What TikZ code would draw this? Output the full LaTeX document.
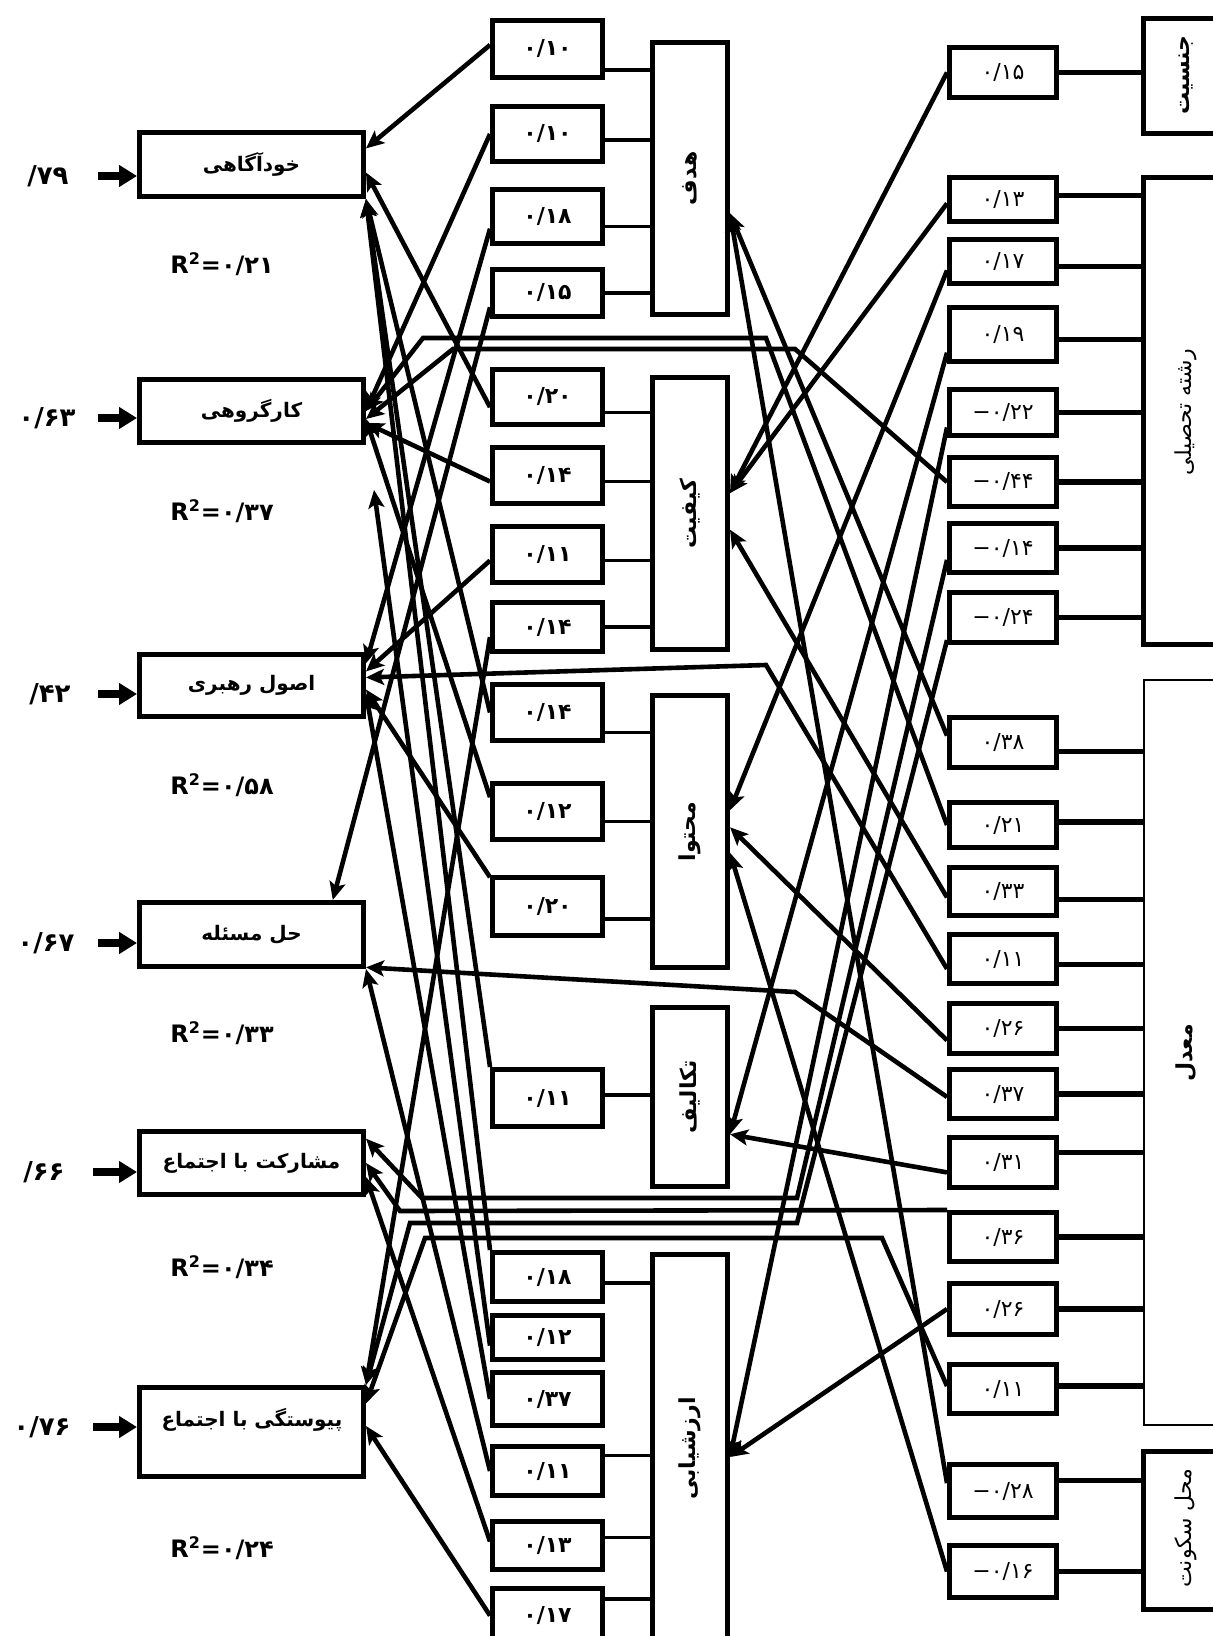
\documentclass[tikz,border=0pt]{standalone}
\usepackage{fontspec}
\usetikzlibrary{arrows.meta}
\newfontfamily\fa[Script=Arabic]{DejaVu Sans}
\TeXXeTstate=1

\begin{document}
\begin{tikzpicture}[x=0.5pt,y=-0.5pt,
    box/.style={draw,line width=2.5pt,fill=white,inner sep=0pt},
    lbox/.style={box,minimum width=112pt,font=\fa\bfseries\fontsize{10}{12}\selectfont},
    mbox/.style={box,minimum width=55pt,font=\fa\bfseries\fontsize{11}{13}\selectfont},
    tbox/.style={box,minimum width=37.5pt,font=\fa\bfseries\fontsize{11}{13}\selectfont},
    rbox/.style={box,minimum width=53.5pt,font=\fa\fontsize{11}{13}\selectfont},
    sidebox/.style={box,minimum width=78.5pt},
    vlab/.style={rotate=90,inner sep=0pt,font=\fa\fontsize{11}{13}\selectfont},
    num/.style={inner sep=0pt,font=\fa\bfseries\fontsize{13}{15}\selectfont},
    rsq/.style={inner sep=0pt,font=\fa\bfseries\fontsize{12}{14}\selectfont},
    mlink/.style={line width=1.8pt},
    rlink/.style={line width=2.6pt},
    arr/.style={line width=2.3pt,-{Stealth[length=9pt,width=8pt,inset=2pt]}},
    inarr/.style={line width=4pt,-{Triangle[length=9pt,width=10.5pt]}}]

\useasboundingbox (0,0) rectangle (1213,1636);
\clip (0,0) rectangle (1213,1636);

\node[lbox,minimum height=32pt] (L1) at (251.5,164.5) {\beginR خودآگاهی\endR};
\node[lbox,minimum height=31.5pt] (L2) at (251.5,411) {\beginR کارگروهی\endR};
\node[lbox,minimum height=31pt] (L3) at (251.5,685.5) {\beginR اصول رهبری\endR};
\node[lbox,minimum height=32pt] (L4) at (251.5,934.5) {\beginR حل مسئله\endR};
\node[lbox,minimum height=31.5pt] (L5) at (251.5,1163) {\beginR مشارکت با اجتماع\endR};
\node[lbox,minimum height=44.5pt] (L6) at (251.5,1432) {};
\node[inner sep=0pt,font=\fa\bfseries\fontsize{10}{12}\selectfont] (L6t) at (252,1420) {\beginR پیوستگی با اجتماع\endR};

\node[num,minimum width=50pt] (n1) at (48,176) {/\kern0pt ۷۹}; \node[num,minimum width=51pt] (n2) at (47,418) {۰/۶۳}; \node[num,minimum width=48pt] (n3) at (50,694) {/\kern0pt ۴۲};
\node[num,minimum width=52pt] (n4) at (46,943) {۰/۶۷}; \node[num,minimum width=49pt] (n5) at (44,1172) {/\kern0pt ۶۶}; \node[num,minimum width=51pt] (n6) at (42,1427) {۰/۷۶};
\draw[inarr] (n1.east) -- (n1.east -| L1.west); \draw[inarr] (n2.east) -- (n2.east -| L2.west); \draw[inarr] (n3.east) -- (n3.east -| L3.west);
\draw[inarr] (n4.east) -- (n4.east -| L4.west); \draw[inarr] (n5.east) -- (n5.east -| L5.west); \draw[inarr] (n6.east) -- (n6.east -| L6.west);

\node[rsq] (q1) at (222,264) {R\textsuperscript{2}=\kern0pt ۰/۲۱}; \node[rsq] (q2) at (222,511) {R\textsuperscript{2}=\kern0pt ۰/۳۷}; \node[rsq] (q3) at (222,785) {R\textsuperscript{2}=\kern0pt ۰/۵۸};
\node[rsq] (q4) at (222,1033) {R\textsuperscript{2}=\kern0pt ۰/۳۳}; \node[rsq] (q5) at (222,1267) {R\textsuperscript{2}=\kern0pt ۰/۳۴}; \node[rsq] (q6) at (222,1548) {R\textsuperscript{2}=\kern0pt ۰/۲۴};

\node[mbox,minimum height=28.5pt] (M1) at (547.5,49) {۰/۱۰}; \node[mbox,minimum height=27.5pt] (M2) at (547.5,134) {۰/۱۰}; \node[mbox,minimum height=27pt] (M3) at (547.5,216.5) {۰/۱۸};
\node[mbox,minimum height=23.5pt] (M4) at (547.5,293) {۰/۱۵}; \node[mbox,minimum height=27.5pt] (M5) at (547.5,397) {۰/۲۰}; \node[mbox,minimum height=28pt] (M6) at (547.5,475.5) {۰/۱۴};
\node[mbox,minimum height=28pt] (M7) at (547.5,554.5) {۰/۱۱}; \node[mbox,minimum height=24.5pt] (M8) at (547.5,627) {۰/۱۴}; \node[mbox,minimum height=28pt] (M9) at (547.5,712.5) {۰/۱۴};
\node[mbox,minimum height=28pt] (M10) at (547.5,811.5) {۰/۱۲}; \node[mbox,minimum height=29pt] (M11) at (547.5,906.5) {۰/۲۰}; \node[mbox,minimum height=28.5pt] (M12) at (547.5,1098) {۰/۱۱};
\node[mbox,minimum height=24.5pt] (M13) at (547.5,1277) {۰/۱۸}; \node[mbox,minimum height=22pt] (M14) at (547.5,1337.5) {۰/۱۲}; \node[mbox,minimum height=26.5pt] (M15) at (547.5,1399) {۰/۳۷};
\node[mbox,minimum height=24.5pt] (M16) at (547.5,1471) {۰/۱۱}; \node[mbox,minimum height=24pt] (M17) at (547.5,1545.5) {۰/۱۳}; \node[mbox,minimum height=27pt] (M18) at (547.5,1615.5) {۰/۱۷};

\node[tbox,minimum height=136pt] (T1) at (690,178.5) {\rotatebox{90}{\beginR هدف\endR}};
\node[tbox,minimum height=136pt] (T2) at (690,513.5) {\rotatebox{90}{\beginR کیفیت\endR}};
\node[tbox,minimum height=136pt] (T3) at (690,831.5) {\rotatebox{90}{\beginR محتوا\endR}};
\node[tbox,minimum height=89.5pt] (T4) at (690,1097) {\rotatebox{90}{\beginR تکالیف\endR}};
\node[tbox,minimum height=194pt] (T5) at (690,1448.5) {\rotatebox{90}{\beginR ارزشیابی\endR}};

\draw[mlink] (M1.-20) -- (M1.-20 -| T1.west); \draw[mlink] (M2.-6) -- (M2.-6 -| T1.west); \draw[mlink] (M3.-10) -- (M3.-10 -| T1.west); \draw[mlink] (M4.east) -- (M4.east -| T1.west);
\draw[mlink] (M5.-15) -- (M5.-15 -| T2.west); \draw[mlink] (M6.-6) -- (M6.-6 -| T2.west); \draw[mlink] (M7.-6) -- (M7.-6 -| T2.west); \draw[mlink] (M8.east) -- (M8.east -| T2.west);
\draw[mlink] (M9.-19) -- (M9.-19 -| T3.west); \draw[mlink] (M10.-10) -- (M10.-10 -| T3.west); \draw[mlink] (M11.-12) -- (M11.-12 -| T3.west);
\draw[mlink] (M12.3) -- (M12.3 -| T4.west);
\draw[mlink] (M13.-6) -- (M13.-6 -| T5.west); \draw[mlink] (M16.15) -- (M16.15 -| T5.west); \draw[mlink] (M17.8) -- (M17.8 -| T5.west); \draw[mlink] (M18.16) -- (M18.16 -| T5.west);

\node[rbox,minimum height=25pt] (R1) at (1003,72.5) {۰/۱۵}; \node[rbox,minimum height=22pt] (R2) at (1003,199.5) {۰/۱۳}; \node[rbox,minimum height=22pt] (R3) at (1003,261.5) {۰/۱۷};
\node[rbox,minimum height=27pt] (R4) at (1003,334.5) {۰/۱۹}; \node[rbox,minimum height=23pt] (R5) at (1003,412.5) {−\kern0pt ۰/۲۲}; \node[rbox,minimum height=24.5pt] (R6) at (1003,482) {−\kern0pt ۰/۴۴};
\node[rbox,minimum height=24.5pt] (R7) at (1003,548) {−\kern0pt ۰/۱۴}; \node[rbox,minimum height=25pt] (R8) at (1003,617.5) {−\kern0pt ۰/۲۴}; \node[rbox,minimum height=25pt] (R9) at (1003,742.5) {۰/۳۸};
\node[rbox,minimum height=22.5pt] (R10) at (1003,825) {۰/۲۱}; \node[rbox,minimum height=24pt] (R11) at (1003,891.5) {۰/۳۳}; \node[rbox,minimum height=24.5pt] (R12) at (1003,959) {۰/۱۱};
\node[rbox,minimum height=25pt] (R13) at (1003,1028.5) {۰/۲۶}; \node[rbox,minimum height=24.5pt] (R14) at (1003,1094) {۰/۳۷}; \node[rbox,minimum height=25pt] (R15) at (1003,1162.5) {۰/۳۱};
\node[rbox,minimum height=24.5pt] (R16) at (1003,1237) {۰/۳۶}; \node[rbox,minimum height=25.5pt] (R17) at (1003,1309) {۰/۲۶}; \node[rbox,minimum height=24.5pt] (R18) at (1003,1389) {۰/۱۱};
\node[rbox,minimum height=26.5pt] (R19) at (1003,1491) {−\kern0pt ۰/۲۸}; \node[rbox,minimum height=26pt] (R20) at (1003,1571.5) {−\kern0pt ۰/۱۶};

\node[sidebox,minimum height=57.5pt] (B1) at (1222,76) {}; \node[sidebox,minimum height=233.5pt] (B2) at (1222,411) {};
\node[sidebox,line width=1pt,minimum height=372.5pt] (B3) at (1222,1052.5) {}; \node[sidebox,minimum height=79pt] (B4) at (1222,1530.5) {};
\node[vlab,font=\fa\bfseries\fontsize{11}{13}\selectfont] (B1t) at (1186,75) {\beginR جنسیت\endR};
\node[vlab] (B2t) at (1186,412) {\beginR رشته تحصیلی\endR};
\node[vlab,font=\fa\bfseries\fontsize{11}{13}\selectfont] (B3t) at (1186,1053) {\beginR معدل\endR};
\node[vlab] (B4t) at (1186,1528) {\beginR محل سکونت\endR};

\draw[rlink] (R1.east) -- (R1.east -| B1.west);
\draw[rlink] (R2.4) -- (R2.4 -| B2.west); \draw[rlink] (R3.-5) -- (R3.-5 -| B2.west); \draw[rlink] (R4.-5) -- (R4.-5 -| B2.west); \draw[rlink] (R5.east) -- (R5.east -| B2.west);
\draw[rlink] (R6.east) -- (R6.east -| B2.west); \draw[rlink] (R7.east) -- (R7.east -| B2.west); \draw[rlink] (R8.east) -- (R8.east -| B2.west);
\draw[rlink] (R9.-9) -- (R9.-9 -| B3.west); \draw[rlink] (R10.3) -- (R10.3 -| B3.west); \draw[rlink] (R11.-8) -- (R11.-8 -| B3.west); \draw[rlink] (R12.-6) -- (R12.-6 -| B3.west);
\draw[rlink] (R13.east) -- (R13.east -| B3.west); \draw[rlink] (R14.east) -- (R14.east -| B3.west); \draw[rlink] (R15.10) -- (R15.10 -| B3.west); \draw[rlink] (R16.east) -- (R16.east -| B3.west);
\draw[rlink] (R17.east) -- (R17.east -| B3.west); \draw[rlink] (R18.3) -- (R18.3 -| B3.west);
\draw[rlink] (R19.11) -- (R19.11 -| B4.west); \draw[rlink] (R20.east) -- (R20.east -| B4.west);

\coordinate (b6a) at (795,349); \coordinate (b6b) at (453,349); \coordinate (b10a) at (766,338); \coordinate (b10b) at (423,338);
\coordinate (b12) at (766,665); \coordinate (b14) at (795,992); \coordinate (b16) at (400,1211);
\coordinate (b7a) at (797,1198); \coordinate (b7b) at (422,1198); \coordinate (b8a) at (797,1223); \coordinate (b8b) at (410,1223);
\coordinate (b18a) at (882,1238); \coordinate (b18b) at (425,1238); \coordinate (m14tip) at (374,490);

\draw[arr] (M1.176) -- (L1.8); \draw[arr] (M2.west) -- (L2.east); \draw[arr] (M3.192) -- (L3.11); \draw[arr] (M4.194) -- (L4.23);
\draw[arr] (M5.190) -- (L1.-4); \draw[arr] (M6.186) -- (L2.-6); \draw[arr] (M7.186) -- (L3.7); \draw[arr] (M8.190) -- (L6.north east);
\draw[arr] (M9.west) -- (L1.south east); \draw[arr] (M10.166) -- (L2.-4); \draw[arr] (M11.153) -- (L3.-2); \draw[arr] (M12.north west) -- (L1.south east);
\draw[arr] (M13.north west) -- (L1.south east); \draw[arr] (M14.188) -- (m14tip); \draw[arr] (M15.west) -- (L3.-4); \draw[arr] (M16.west) -- (L4.south east);
\draw[arr] (M17.176) -- (L5.-7); \draw[arr] (M18.west) -- (L6.3);

\draw[arr] (R1.west) -- (T2.27); \draw[arr] (R2.184) -- (T2.27); \draw[arr] (R3.189) -- (T3.28); \draw[arr] (R4.198) -- (T4.-43); \draw[arr] (R5.195) -- (T5.-12);
\draw[arr] (R6.west) -- (b6a) -- (b6b) -- (L2.-4); \draw[arr] (R7.192) -- (b7a) -- (b7b) -- (L5.12); \draw[arr] (R8.202) -- (b8a) -- (b8b) -- (L6.north east);
\draw[arr] (R9.173) -- (T1.-41); \draw[arr] (R10.west) -- (b10a) -- (b10b) -- (L2.east); \draw[arr] (R11.186) -- (T2.-22); \draw[arr] (R12.190) -- (b12) -- (L3.4);
\draw[arr] (R13.192) -- (T3.6); \draw[arr] (R14.183) -- (b14) -- (L4.-16); \draw[arr] (R15.190) -- (T4.-43); \draw[arr] (R16.north west) -- (b16) -- (L5.east);
\draw[arr] (R17.west) -- (T5.-12); \draw[arr] (R18.177) -- (b18a) -- (b18b) -- (L6.14); \draw[arr] (R19.172) -- (T1.-41); \draw[arr] (R20.west) -- (T3.-28);
\end{tikzpicture}
\end{document}
